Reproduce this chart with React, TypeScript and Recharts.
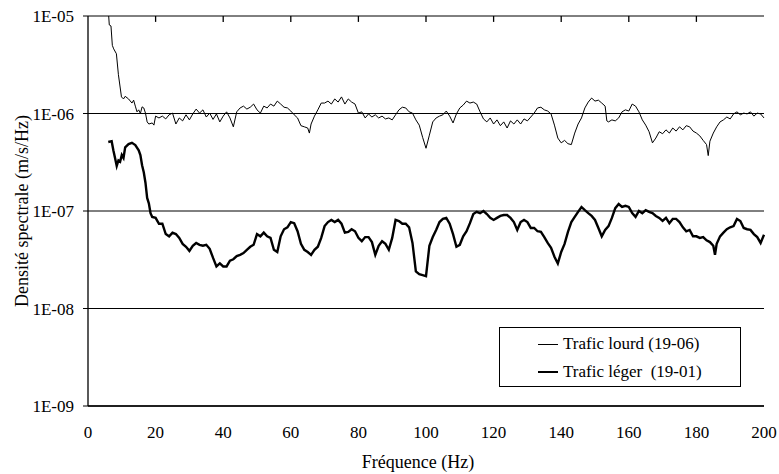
import { LineChart, Line, XAxis, YAxis, CartesianGrid, Legend, ReferenceLine } from 'recharts';

// Densité spectrale, trafic lourd (19-06) : [Hz, m/s/Hz]
const lourd: [number, number][] = [
  [6.0, 1.15e-5], [6.3, 8.1e-6], [6.8, 7.9e-6], [7.2, 5.0e-6], [7.6, 4.6e-6], [8.4, 4.1e-6],
  [9.0, 2.5e-6], [9.9, 1.48e-6], [10.5, 1.41e-6], [11, 1.5e-6], [12, 1.41e-6], [13, 1.28e-6],
  [13.5, 1.37e-6], [14, 1.19e-6], [14.5, 1.04e-6], [15, 1.09e-6], [15.5, 1.0e-6], [16, 1.17e-6],
  [16.5, 1.14e-6], [17, 1.01e-6], [17.5, 0.82e-6], [18, 0.78e-6], [19, 0.8e-6], [19.5, 0.76e-6],
  [20, 0.94e-6], [21, 0.9e-6], [22, 0.94e-6], [23, 0.88e-6], [24, 0.97e-6], [25, 1.01e-6],
  [26, 0.78e-6], [27, 0.9e-6], [28, 0.84e-6], [29, 0.97e-6], [30, 0.86e-6], [31, 0.99e-6],
  [32, 1.11e-6], [33, 1.01e-6], [34, 1.09e-6], [35, 0.92e-6], [36, 1.01e-6], [37, 0.87e-6],
  [38, 0.99e-6], [39, 0.82e-6], [40, 0.94e-6], [41, 1.04e-6], [42, 0.9e-6], [43, 0.73e-6],
  [44, 1.04e-6], [45, 1.14e-6], [46, 1.19e-6], [47, 1.11e-6], [48, 1.16e-6], [49, 1.25e-6],
  [50, 1.09e-6], [51, 1.01e-6], [52, 1.19e-6], [53, 1.14e-6], [54, 1.25e-6], [55, 1.19e-6],
  [56, 1.34e-6], [57, 1.25e-6], [58, 1.16e-6], [59, 1.14e-6], [60, 1.06e-6], [61, 0.97e-6],
  [62, 0.9e-6], [63, 0.75e-6], [64, 0.73e-6], [65, 0.71e-6], [65.5, 0.63e-6], [66, 0.78e-6],
  [67, 0.94e-6], [68, 1.09e-6], [69, 1.28e-6], [70, 1.28e-6], [71, 1.34e-6], [72, 1.25e-6],
  [73, 1.41e-6], [74, 1.31e-6], [75, 1.48e-6], [76, 1.25e-6], [77, 1.41e-6], [78, 1.31e-6],
  [79, 1.25e-6], [80, 1.01e-6], [81, 1.04e-6], [82, 0.9e-6], [83, 0.99e-6], [84, 0.92e-6],
  [85, 0.97e-6], [86, 0.9e-6], [87, 0.94e-6], [88, 0.88e-6], [89, 0.9e-6], [90, 0.86e-6],
  [91, 0.97e-6], [92, 1.09e-6], [93, 1.16e-6], [94, 1.14e-6], [95, 1.04e-6], [96, 1.01e-6],
  [97, 0.86e-6], [98, 0.76e-6], [99, 0.57e-6], [100, 0.44e-6], [101, 0.6e-6], [102, 0.82e-6],
  [103, 0.9e-6], [104, 0.94e-6], [105, 0.97e-6], [106, 1.06e-6], [107, 0.94e-6], [108, 0.8e-6],
  [109, 0.99e-6], [110, 1.14e-6], [111, 1.22e-6], [112, 1.34e-6], [113, 1.28e-6], [114, 1.31e-6],
  [115, 1.25e-6], [116, 1.04e-6], [117, 0.88e-6], [118, 0.82e-6], [119, 0.9e-6], [120, 0.78e-6],
  [121, 0.86e-6], [122, 0.75e-6], [123, 0.82e-6], [124, 0.71e-6], [125, 0.84e-6], [126, 0.78e-6],
  [127, 0.86e-6], [128, 0.78e-6], [129, 0.88e-6], [130, 0.84e-6], [131, 0.92e-6], [132, 1.01e-6],
  [133, 1.14e-6], [134, 1.16e-6], [135, 1.09e-6], [136, 1.06e-6], [137, 0.99e-6], [138, 0.76e-6],
  [139, 0.56e-6], [140, 0.5e-6], [141, 0.53e-6], [142, 0.49e-6], [143, 0.48e-6], [144, 0.63e-6],
  [145, 0.78e-6], [146, 0.9e-6], [147, 1.14e-6], [148, 1.31e-6], [149, 1.44e-6], [150, 1.34e-6],
  [151, 1.37e-6], [152, 1.28e-6], [153, 1.19e-6], [153.5, 0.84e-6], [154, 0.82e-6], [155, 0.86e-6],
  [156, 0.84e-6], [157, 0.9e-6], [158, 1.04e-6], [159, 1.09e-6], [160, 1.06e-6], [161, 1.25e-6],
  [162, 1.19e-6], [163, 1.04e-6], [164, 0.86e-6], [165, 0.76e-6], [166, 0.65e-6], [167, 0.5e-6],
  [168, 0.56e-6], [169, 0.65e-6], [170, 0.62e-6], [171, 0.68e-6], [172, 0.63e-6], [173, 0.71e-6],
  [174, 0.66e-6], [175, 0.73e-6], [176, 0.68e-6], [177, 0.75e-6], [178, 0.73e-6], [179, 0.66e-6],
  [180, 0.63e-6], [181, 0.59e-6], [182, 0.53e-6], [183, 0.48e-6], [183.5, 0.37e-6], [184, 0.52e-6],
  [185, 0.63e-6], [186, 0.73e-6], [187, 0.82e-6], [188, 0.86e-6], [189, 0.92e-6], [190, 0.88e-6],
  [191, 0.99e-6], [192, 1.04e-6], [193, 0.97e-6], [194, 1.01e-6], [195, 0.99e-6], [196, 1.04e-6],
  [197, 0.94e-6], [198, 1.01e-6], [199, 0.99e-6], [200, 0.9e-6],
];

// Densité spectrale, trafic léger (19-01) : [Hz, m/s/Hz]
const leger: [number, number][] = [
  [6, 5.1e-7], [7, 5.2e-7], [7.5, 4.2e-7], [8, 3.5e-7], [8.5, 2.9e-7], [9, 3.3e-7], [9.5, 3.2e-7],
  [10, 3.75e-7], [10.5, 3.5e-7], [11, 4.5e-7], [12, 4.85e-7], [13, 5.0e-7], [14, 4.75e-7],
  [15, 4.2e-7], [15.5, 3.75e-7], [16, 2.95e-7], [16.5, 2.5e-7], [17, 1.95e-7], [17.5, 1.36e-7],
  [18, 1.2e-7], [18.5, 0.95e-7], [19, 0.87e-7], [20, 0.85e-7], [21, 0.74e-7], [22, 0.74e-7],
  [23, 0.58e-7], [24, 0.55e-7], [25, 0.6e-7], [26, 0.58e-7], [27, 0.53e-7], [28, 0.46e-7],
  [29, 0.43e-7], [30, 0.39e-7], [31, 0.44e-7], [32, 0.47e-7], [33, 0.45e-7], [34, 0.44e-7],
  [35, 0.45e-7], [36, 0.41e-7], [37, 0.33e-7], [38, 0.27e-7], [39, 0.29e-7], [40, 0.27e-7],
  [41, 0.27e-7], [42, 0.31e-7], [43, 0.32e-7], [44, 0.345e-7], [45, 0.355e-7], [46, 0.37e-7],
  [47, 0.4e-7], [48, 0.43e-7], [49, 0.45e-7], [50, 0.58e-7], [51, 0.55e-7], [52, 0.6e-7],
  [53, 0.55e-7], [54, 0.53e-7], [55, 0.4e-7], [56, 0.38e-7], [57, 0.55e-7], [58, 0.65e-7],
  [59, 0.68e-7], [60, 0.77e-7], [61, 0.75e-7], [62, 0.62e-7], [63, 0.46e-7], [64, 0.4e-7],
  [65, 0.38e-7], [66, 0.355e-7], [67, 0.4e-7], [68, 0.43e-7], [69, 0.53e-7], [70, 0.7e-7],
  [71, 0.77e-7], [72, 0.81e-7], [73, 0.77e-7], [74, 0.81e-7], [75, 0.74e-7], [76, 0.6e-7],
  [77, 0.61e-7], [78, 0.65e-7], [79, 0.62e-7], [80, 0.53e-7], [81, 0.49e-7], [82, 0.54e-7],
  [83, 0.54e-7], [84, 0.48e-7], [85, 0.355e-7], [86, 0.44e-7], [87, 0.49e-7], [88, 0.46e-7],
  [89, 0.4e-7], [90, 0.53e-7], [91, 0.81e-7], [92, 0.79e-7], [93, 0.74e-7], [94, 0.74e-7],
  [95, 0.68e-7], [96, 0.47e-7], [97, 0.24e-7], [98, 0.225e-7], [99, 0.22e-7], [100, 0.215e-7],
  [101, 0.44e-7], [102, 0.54e-7], [103, 0.64e-7], [104, 0.77e-7], [105, 0.83e-7], [106, 0.85e-7],
  [107, 0.74e-7], [108, 0.58e-7], [109, 0.43e-7], [110, 0.45e-7], [111, 0.55e-7], [112, 0.62e-7],
  [113, 0.75e-7], [114, 0.93e-7], [115, 0.98e-7], [116, 0.95e-7], [117, 1.0e-7], [118, 0.93e-7],
  [119, 0.85e-7], [120, 0.81e-7], [121, 0.85e-7], [122, 0.89e-7], [123, 0.91e-7], [124, 0.91e-7],
  [125, 0.85e-7], [126, 0.77e-7], [127, 0.64e-7], [128, 0.77e-7], [129, 0.81e-7], [130, 0.77e-7],
  [131, 0.67e-7], [132, 0.67e-7], [133, 0.62e-7], [134, 0.61e-7], [135, 0.54e-7], [136, 0.47e-7],
  [137, 0.42e-7], [138, 0.34e-7], [139, 0.29e-7], [140, 0.38e-7], [141, 0.46e-7], [142, 0.61e-7],
  [143, 0.77e-7], [144, 0.87e-7], [145, 0.98e-7], [146, 1.1e-7], [147, 1.02e-7], [148, 0.95e-7],
  [149, 0.89e-7], [150, 0.81e-7], [151, 0.67e-7], [152, 0.55e-7], [153, 0.64e-7], [154, 0.7e-7],
  [155, 0.85e-7], [156, 1.07e-7], [157, 1.18e-7], [158, 1.1e-7], [159, 1.13e-7], [160, 1.1e-7],
  [161, 0.95e-7], [162, 0.87e-7], [163, 1.0e-7], [164, 0.95e-7], [165, 1.02e-7], [166, 0.98e-7],
  [167, 0.95e-7], [168, 0.89e-7], [169, 0.85e-7], [170, 0.79e-7], [171, 0.85e-7], [172, 0.75e-7],
  [173, 0.83e-7], [174, 0.83e-7], [175, 0.77e-7], [176, 0.68e-7], [177, 0.62e-7], [178, 0.64e-7],
  [179, 0.55e-7], [180, 0.55e-7], [181, 0.53e-7], [182, 0.54e-7], [183, 0.5e-7], [184, 0.48e-7],
  [185, 0.44e-7], [185.5, 0.355e-7], [186, 0.46e-7], [187, 0.55e-7], [188, 0.6e-7], [189, 0.65e-7],
  [190, 0.68e-7], [191, 0.7e-7], [192, 0.83e-7], [193, 0.79e-7], [194, 0.67e-7], [195, 0.65e-7],
  [196, 0.64e-7], [197, 0.58e-7], [198, 0.54e-7], [199, 0.47e-7], [200, 0.57e-7],
];

const xTicks = [0, 20, 40, 60, 80, 100, 120, 140, 160, 180, 200];
const topTicks = [20, 40, 60, 80, 100, 120, 140, 160, 180];
const yTicks = [1e-9, 1e-8, 1e-7, 1e-6, 1e-5];
const Y_MAX = 1e-5;
const TOP_TICK_END = 8.7e-6; // small tick marks hanging from the upper frame

const FONT = "'Times New Roman', Times, 'Liberation Serif', 'DejaVu Serif', serif";

const lourdData = lourd.map(([f, v]) => ({ f, v }));
const legerData = leger.map(([f, v]) => ({ f, v }));

const fmtExp = (v: number) => '1E-' + String(Math.round(-Math.log10(v))).padStart(2, '0');

function LegendBox() {
  const row = (top: number, label: string, w: number) => (
    <div style={{ position: 'absolute', left: 0, top, height: 20, lineHeight: '20px', whiteSpace: 'pre' }}>
      <span
        style={{ position: 'absolute', left: 38, top: 10 - w / 2, width: 20, height: w, background: '#000' }}
      />
      <span style={{ position: 'absolute', left: 63, top: 0 }}>{label}</span>
    </div>
  );
  return (
    <div
      style={{
        position: 'relative',
        width: 242,
        height: 60,
        boxSizing: 'border-box',
        border: '1px solid #000',
        background: '#fff',
        fontFamily: FONT,
        fontSize: 17,
        color: '#000',
      }}
    >
      {row(6, 'Trafic lourd (19-06)', 1)}
      {row(34, 'Trafic léger  (19-01)', 2.5)}
    </div>
  );
}

export default function App() {
  return (
    <div
      style={{
        position: 'absolute',
        left: 0,
        top: 0,
        width: 779,
        height: 474,
        background: '#fff',
        fontFamily: FONT,
      }}
    >
      <LineChart
        width={779}
        height={474}
        margin={{ top: 16, right: 15, bottom: 38, left: 18 }}
        style={{ fontFamily: FONT }}
      >
        <CartesianGrid vertical={false} stroke="#000" strokeWidth={1} />
        <XAxis
          type="number"
          dataKey="f"
          domain={[0, 200]}
          ticks={xTicks}
          height={30}
          tickLine={false}
          tickSize={6}
          tickMargin={14}
          axisLine={{ stroke: '#000', strokeWidth: 1.3 }}
          tick={{ fill: '#000', fontFamily: FONT, fontSize: 17 }}
        />
        <YAxis
          scale="log"
          type="number"
          domain={[1e-9, 1e-5]}
          allowDataOverflow
          ticks={yTicks}
          tickFormatter={fmtExp}
          width={70}
          tickSize={5}
          tickMargin={9}
          tickLine={{ stroke: '#000' }}
          axisLine={{ stroke: '#000', strokeWidth: 1.3 }}
          tick={{ fill: '#000', fontFamily: FONT, fontSize: 17 }}
        />
        <YAxis
          yAxisId="right"
          orientation="right"
          type="number"
          domain={[0, 1]}
          width={0}
          mirror
          tick={false}
          tickLine={false}
          axisLine={{ stroke: '#000', strokeWidth: 1.3 }}
        />
        {topTicks.map((t) => (
          <ReferenceLine
            key={t}
            segment={[
              { x: t, y: Y_MAX },
              { x: t, y: TOP_TICK_END },
            ]}
            stroke="#000"
            strokeWidth={1.3}
          />
        ))}
        <Line
          data={lourdData}
          dataKey="v"
          name="Trafic lourd (19-06)"
          type="linear"
          stroke="#000"
          strokeWidth={1}
          dot={false}
          isAnimationActive={false}
        />
        <Line
          data={legerData}
          dataKey="v"
          name="Trafic léger  (19-01)"
          type="linear"
          stroke="#000"
          strokeWidth={2.4}
          dot={false}
          isAnimationActive={false}
        />
        <Legend
          layout="vertical"
          align="center"
          verticalAlign="middle"
          content={() => <LegendBox />}
          wrapperStyle={{ left: 499, top: 327, width: 242, height: 60 }}
        />
      </LineChart>
      <div
        style={{
          position: 'absolute',
          left: 318,
          top: 450,
          width: 200,
          textAlign: 'center',
          fontFamily: FONT,
          fontSize: 18,
          lineHeight: '24px',
        }}
      >
        Fréquence (Hz)
      </div>
      <div
        style={{
          position: 'absolute',
          left: 22 - 150,
          top: 211 - 12,
          width: 300,
          height: 24,
          lineHeight: '24px',
          textAlign: 'center',
          transform: 'rotate(-90deg)',
          fontFamily: FONT,
          fontSize: 18,
          whiteSpace: 'nowrap',
        }}
      >
        Densité spectrale (m/s/Hz)
      </div>
    </div>
  );
}
